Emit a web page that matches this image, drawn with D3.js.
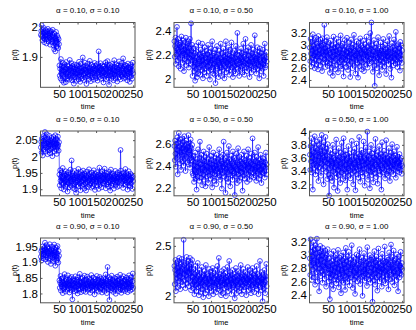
<!DOCTYPE html>
<html><head><meta charset="utf-8">
<script src="https://cdnjs.cloudflare.com/ajax/libs/d3/7.8.5/d3.min.js"></script>
<style>body{margin:0;background:#fff}svg{display:block}</style>
</head><body>
<script>
const alphas = [0.10, 0.50, 0.90];
const sigmas = [0.10, 0.50, 1.00];
const xDomain = [0, 255];
const xTicks = [50, 100, 150, 200, 250];
const yDomains = [
  [1.80, 2.013], [1.925, 2.467], [2.275, 3.38],
  [1.88, 2.078], [2.123, 2.718], [3.026, 4.01],
  [1.77, 1.978], [1.935, 2.578], [2.275, 3.26]
];
const yTicks = [
  [1.9, 2], [2, 2.2, 2.4], [2.4, 2.6, 2.8, 3, 3.2],
  [1.9, 1.95, 2, 2.05], [2.2, 2.4, 2.6], [3.2, 3.4, 3.6, 3.8, 4],
  [1.8, 1.85, 1.9, 1.95], [2, 2.5], [2.4, 2.6, 2.8, 3, 3.2]
];
const p1 = [1.972,1.985,2.004,1.968,1.955,1.990,1.978,1.962,1.995,1.948,1.981,1.969,1.957,1.988,1.975,1.944,1.966,1.983,1.959,1.992,1.970,1.951,1.977,1.986,1.963,1.940,1.979,1.958,1.984,1.967,1.949,1.973,1.989,1.956,1.937,1.965,1.925,1.976,1.946,1.918,1.961,1.982,1.953,1.934,1.970,1.947,1.964,1.929,1.958,1.942,
1.872,1.838,1.861,1.829,1.893,1.846,1.870,1.822,1.855,1.880,1.841,1.866,1.815,1.852,1.876,1.834,1.859,1.817,1.883,1.845,1.862,1.828,1.871,1.849,1.836,1.868,1.825,1.857,1.890,1.843,1.864,1.831,1.854,1.879,1.823,1.848,1.870,1.838,1.860,1.812,1.851,1.875,1.833,1.866,1.844,1.858,1.821,1.873,1.847,1.835,1.869,1.826,1.856,1.884,1.840,1.862,1.818,1.850,1.877,1.837,1.863,1.829,1.853,1.898,1.842,1.867,1.824,1.859,1.846,1.881,1.832,1.857,1.871,1.811,1.849,1.866,1.836,1.878,1.843,1.861,1.827,1.854,1.887,1.839,1.863,1.820,1.852,1.874,1.845,1.858,1.833,1.869,1.848,1.825,1.862,1.880,1.837,1.855,1.871,1.830,1.859,1.844,1.876,1.822,1.864,1.850,1.918,1.841,1.867,1.834,1.856,1.879,1.828,1.861,1.847,1.872,1.838,1.853,1.868,1.816,1.848,1.870,1.835,1.862,1.843,1.882,1.826,1.858,1.875,1.840,1.886,1.831,1.866,1.849,1.808,1.857,1.873,1.839,1.863,1.851,1.828,1.869,1.845,1.877,1.834,1.860,1.823,1.855,1.889,1.842,1.867,1.830,1.853,1.876,1.838,1.864,1.819,1.850,1.872,1.844,1.859,1.885,1.833,1.865,1.847,1.826,1.870,1.841,1.857,1.880,1.836,1.862,1.895,1.848,1.829,1.868,1.843,1.874,1.832,1.856,1.871,1.839,1.861,1.823,1.852,1.878,1.845,1.866,1.834,1.858,1.818,1.863,1.849,1.875,1.837,1.869,1.828,1.854,1.881,1.846];
const p2 = [2.31,2.18,2.27,2.34,2.12,2.25,2.20,2.43,2.29,2.15,2.24,2.33,2.10,2.22,2.28,2.17,2.30,2.08,2.26,2.35,2.19,2.23,2.13,2.32,2.21,2.27,2.06,2.24,2.16,2.30,2.20,2.34,2.11,2.26,2.18,2.29,2.14,2.22,2.31,2.09,2.25,2.17,2.33,2.20,2.12,2.46,2.23,2.15,2.28,2.02,
2.19,2.10,2.25,2.06,2.15,2.21,1.98,2.13,2.27,2.08,2.17,2.01,2.22,2.12,2.04,2.30,2.16,2.09,2.20,2.14,2.03,2.24,2.11,2.18,2.07,2.29,2.15,2.00,2.21,2.12,2.19,2.05,2.26,2.13,2.08,2.17,2.23,2.02,2.14,2.20,2.10,2.28,2.06,2.16,2.11,2.22,1.99,2.18,2.13,2.25,2.07,2.15,2.31,2.09,2.19,2.04,2.12,2.21,2.16,2.03,2.24,1.96,2.14,2.18,2.10,2.27,2.08,2.15,2.20,2.01,2.13,2.23,2.06,2.17,2.11,2.29,2.09,2.16,2.02,2.21,2.14,2.07,2.25,2.12,2.18,2.00,2.15,2.22,2.10,2.31,2.05,2.17,2.13,2.20,2.08,2.26,2.11,2.16,2.03,2.19,2.12,2.24,2.07,2.15,2.30,2.09,2.18,2.13,2.01,2.21,2.16,2.06,2.23,2.11,2.17,2.04,2.27,2.14,2.09,2.20,2.38,2.12,2.08,2.19,2.15,2.02,2.22,2.13,2.17,2.07,2.25,2.10,2.16,2.21,2.05,2.14,2.29,2.11,2.18,2.03,2.13,2.20,2.33,2.09,2.16,2.23,2.06,2.15,2.12,2.26,2.08,2.19,2.14,2.01,2.22,2.11,2.17,2.28,2.05,2.16,2.21,2.10,2.14,2.24,2.07,2.18,2.12,2.36,2.09,2.15,2.20,2.04,2.17,2.13,2.26,2.08,2.19,2.11,2.22,2.00,2.16,2.25,2.10,2.14,2.06,2.21,2.13,2.18,2.08,2.24,2.12,2.02,2.19,2.15,2.29,2.09,2.17,2.11,2.22,2.14];
const p3 = [2.95,2.72,3.10,2.85,2.63,3.05,2.90,2.78,3.18,2.69,2.98,2.82,3.08,2.60,2.93,2.76,3.12,2.87,2.67,3.02,2.80,2.96,2.58,3.15,2.84,2.73,3.04,2.91,2.65,3.09,2.79,2.99,2.86,2.55,3.11,2.89,2.70,3.00,2.83,3.34,2.75,2.94,2.62,3.06,2.88,2.71,3.13,2.81,2.97,2.64,
2.90,2.77,3.03,2.68,2.52,2.86,3.07,2.74,2.93,2.61,2.99,2.80,2.47,2.88,3.14,2.72,2.95,2.83,2.58,3.01,2.76,2.89,3.10,2.66,2.84,2.97,2.53,2.79,3.05,2.87,2.70,2.92,2.63,3.16,2.81,2.74,2.98,2.59,2.85,3.02,2.78,2.46,2.91,2.69,3.08,2.83,2.75,2.96,2.62,2.88,3.12,2.73,2.86,2.57,2.94,2.80,3.04,2.67,2.90,2.45,2.84,3.09,2.71,2.95,2.78,2.60,3.00,2.87,2.76,3.17,2.64,2.89,2.82,2.51,2.97,2.74,3.06,2.85,2.69,2.93,2.44,2.81,3.03,2.77,2.91,2.63,3.11,2.86,2.72,2.98,2.58,2.84,2.95,2.70,3.07,2.79,2.55,2.92,2.83,3.01,2.75,2.88,2.66,3.14,2.80,2.96,2.61,2.87,2.73,3.05,2.90,2.68,2.84,3.20,2.77,2.93,3.38,2.71,2.99,2.82,2.54,2.89,2.76,3.08,2.64,2.30,2.95,2.81,2.72,3.02,2.86,2.60,2.91,2.78,3.13,2.69,2.87,2.48,2.94,2.83,2.74,3.04,2.66,2.90,2.79,2.57,2.97,2.85,3.10,2.71,2.88,2.63,2.82,3.00,2.76,2.92,2.50,2.86,2.73,3.06,2.80,2.95,2.67,2.89,3.15,2.75,2.84,2.59,2.93,2.78,2.44,2.87,3.03,2.72,2.96,2.81,2.65,3.09,2.85,2.77,2.91,2.68,3.22,2.83,2.74,2.98,2.62,2.88,3.01,2.79,2.70,2.94,2.86,2.56,3.05,2.82,2.76,2.99,2.69,2.90];
const p4 = [2.028,2.045,2.012,2.055,2.036,2.003,2.048,2.062,2.021,2.040,2.058,2.075,2.033,2.015,2.050,2.026,2.068,2.041,2.007,2.053,2.030,2.046,2.019,2.063,2.037,2.010,2.049,2.024,2.057,2.034,2.043,2.001,2.052,2.027,2.060,2.038,2.016,2.047,2.031,2.065,2.022,2.054,2.039,2.008,2.050,2.029,2.061,2.035,2.018,2.044,
1.945,1.912,1.958,1.926,1.937,1.903,1.951,1.920,1.940,1.965,1.917,1.933,1.899,1.948,1.925,1.942,1.908,1.955,1.930,1.914,1.946,1.922,1.893,1.938,1.952,1.919,1.935,1.906,1.944,1.927,1.960,1.911,1.932,1.988,1.923,1.941,1.904,1.949,1.929,1.916,1.937,1.956,1.900,1.943,1.921,1.889,1.934,1.950,1.913,1.939,1.926,1.962,1.909,1.931,1.947,1.918,1.936,1.897,1.953,1.924,1.940,1.910,1.945,1.928,1.957,1.915,1.933,1.902,1.948,1.930,1.919,1.942,1.896,1.938,1.954,1.922,1.935,1.907,1.944,1.927,1.961,1.913,1.931,1.946,1.918,1.939,1.905,1.951,1.925,1.936,1.909,1.943,1.929,1.958,1.916,1.934,1.898,1.947,1.923,1.940,1.930,1.952,1.912,1.937,1.920,1.945,1.901,1.932,1.966,1.926,1.941,1.914,1.949,1.928,1.906,1.938,1.955,1.919,1.933,1.944,1.917,1.935,1.963,1.924,1.942,1.903,1.950,1.929,1.915,1.939,1.947,1.921,1.934,1.908,1.953,1.927,1.940,1.896,1.936,1.960,1.911,1.944,1.930,1.918,1.948,1.925,1.937,1.902,1.942,1.931,1.920,1.956,1.913,1.938,1.926,1.946,1.907,1.933,1.951,1.922,1.936,1.910,1.945,1.928,1.941,2.020,1.957,1.919,1.935,1.948,1.924,1.939,1.904,1.950,1.932,1.916,1.943,1.927,1.962,1.914,1.934,1.949,1.921,1.937,1.899,1.944,1.929,1.955,1.912,1.940,1.926,1.908,1.947,1.930,1.918,1.942,1.935,1.901,1.938,1.925];
const p5 = [2.58,2.45,2.63,2.51,2.39,2.60,2.55,2.47,2.66,2.32,2.54,2.61,2.70,2.49,2.57,2.42,2.64,2.52,2.36,2.59,2.50,2.65,2.44,2.56,2.62,2.40,2.53,2.67,2.46,2.58,2.35,2.55,2.63,2.48,2.60,2.43,2.57,2.52,2.68,2.41,2.54,2.61,2.38,2.50,2.64,2.47,2.56,2.45,2.59,2.33,
2.44,2.31,2.49,2.25,2.40,2.36,2.52,2.28,2.43,2.34,2.18,2.46,2.39,2.30,2.55,2.35,2.42,2.26,2.47,2.62,2.33,2.41,2.29,2.50,2.37,2.22,2.45,2.38,2.32,2.53,2.27,2.44,2.36,2.48,2.21,2.40,2.34,2.51,2.30,2.43,2.39,2.24,2.46,2.35,2.57,2.31,2.42,2.37,2.28,2.49,2.36,2.45,2.20,2.41,2.33,2.52,2.38,2.26,2.44,2.32,2.47,2.35,2.40,2.23,2.50,2.37,2.43,2.29,2.46,2.34,2.41,2.55,2.31,2.38,2.27,2.48,2.36,2.44,2.19,2.42,2.33,2.50,2.39,2.62,2.30,2.45,2.35,2.41,2.15,2.47,2.37,2.28,2.52,2.34,2.43,2.25,2.40,2.58,2.32,2.46,2.38,2.21,2.44,2.36,2.49,2.31,2.42,2.27,2.53,2.35,2.40,2.33,2.47,2.13,2.39,2.45,2.30,2.51,2.37,2.24,2.43,2.36,2.56,2.32,2.41,2.26,2.48,2.35,2.44,2.29,2.38,2.50,2.34,2.42,2.17,2.46,2.37,2.31,2.53,2.40,2.28,2.45,2.36,2.43,2.33,2.49,2.25,2.41,2.38,2.55,2.32,2.44,2.39,2.27,2.47,2.35,2.42,2.30,2.51,2.37,2.41,2.65,2.34,2.46,2.29,2.40,2.36,2.52,2.31,2.44,2.38,2.26,2.48,2.35,2.43,2.33,2.57,2.39,2.28,2.45,2.36,2.42,2.31,2.50,2.37,2.24,2.44,2.34,2.40,2.47,2.33,2.39,2.46,2.35,2.29,2.43,2.38,2.52,2.32,2.41];
const p6 = [3.65,3.42,3.78,3.55,3.90,3.38,3.70,3.60,3.12,3.82,3.50,3.68,3.45,3.93,3.58,3.35,3.75,3.63,3.48,3.85,3.40,3.72,3.56,3.25,3.80,3.62,3.46,3.88,3.53,3.70,3.33,3.66,3.95,3.51,3.77,3.43,3.61,3.20,3.84,3.57,3.69,3.47,3.92,3.54,3.39,3.74,3.64,3.28,3.81,3.52,
3.58,3.35,3.03,3.62,3.44,3.72,3.30,3.55,3.48,3.66,3.25,3.52,3.80,3.40,3.60,3.15,3.57,3.46,3.70,3.37,3.53,3.88,3.31,3.49,3.64,3.10,3.56,3.42,3.75,3.34,3.61,3.47,3.22,3.68,3.51,3.38,3.83,3.45,3.59,3.28,3.54,3.90,3.36,3.63,3.43,3.71,3.26,3.50,3.65,3.39,3.57,3.12,3.60,3.44,3.78,3.33,3.52,3.67,3.41,3.55,3.29,3.62,3.48,3.86,3.37,3.58,3.45,3.20,3.69,3.50,3.40,3.74,3.53,3.11,3.61,3.46,3.82,3.35,3.56,3.43,3.66,3.30,3.54,3.92,3.47,3.63,3.24,3.59,3.42,3.72,3.38,3.55,3.68,3.32,3.49,3.85,3.44,3.60,3.18,3.57,3.51,3.76,3.36,3.64,3.45,4.00,3.53,3.27,3.62,3.41,3.70,3.48,3.14,3.58,3.39,3.80,3.52,3.34,3.67,3.46,3.55,3.23,3.61,3.43,3.73,3.37,3.59,3.89,3.50,3.31,3.64,3.47,3.56,3.21,3.69,3.44,3.54,3.78,3.40,3.60,3.35,3.66,3.49,3.12,3.57,3.84,3.45,3.62,3.38,3.53,3.71,3.42,3.58,3.29,3.65,3.50,3.87,3.36,3.55,3.46,3.60,3.33,3.52,3.75,3.41,3.63,3.25,3.57,3.48,3.68,3.39,3.54,3.81,3.44,3.61,3.35,3.50,3.70,3.43,3.56,3.47,3.64,3.30,3.58,3.52,3.77,3.40,3.55,3.62,3.45,3.53,3.38,3.66,3.49,3.57,3.42,3.60,3.51,3.36,3.48];
const p7 = [1.918,1.935,1.906,1.942,1.927,1.951,1.913,1.938,1.924,1.946,1.931,1.963,1.909,1.940,1.922,1.955,1.916,1.934,1.948,1.901,1.929,1.944,1.912,1.937,1.958,1.920,1.933,1.895,1.941,1.926,1.950,1.915,1.936,1.904,1.945,1.923,1.957,1.910,1.932,1.889,1.939,1.919,1.947,1.907,1.928,1.952,1.914,1.899,1.936,1.921,
1.842,1.818,1.835,1.856,1.809,1.829,1.848,1.822,1.838,1.801,1.833,1.851,1.815,1.827,1.862,1.820,1.840,1.806,1.831,1.845,1.812,1.836,1.824,1.858,1.817,1.830,1.843,1.803,1.826,1.849,1.819,1.839,1.811,1.853,1.828,1.781,1.834,1.846,1.814,1.825,1.841,1.807,1.832,1.855,1.821,1.837,1.810,1.844,1.823,1.800,1.830,1.852,1.816,1.839,1.826,1.863,1.813,1.834,1.804,1.847,1.822,1.836,1.818,1.850,1.829,1.808,1.841,1.824,1.857,1.815,1.833,1.805,1.845,1.827,1.819,1.854,1.831,1.812,1.838,1.823,1.848,1.816,1.832,1.802,1.843,1.826,1.859,1.820,1.835,1.809,1.840,1.824,1.851,1.814,1.830,1.797,1.846,1.821,1.837,1.817,1.828,1.856,1.811,1.834,1.822,1.844,1.806,1.839,1.825,1.853,1.815,1.831,1.848,1.819,1.836,1.803,1.842,1.827,1.812,1.849,1.823,1.838,1.808,1.845,1.829,1.861,1.818,1.833,1.801,1.840,1.885,1.826,1.814,1.852,1.832,1.779,1.837,1.820,1.846,1.810,1.834,1.857,1.816,1.828,1.843,1.805,1.839,1.824,1.812,1.850,1.821,1.836,1.799,1.847,1.830,1.815,1.854,1.825,1.841,1.807,1.832,1.818,1.845,1.827,1.860,1.813,1.838,1.802,1.835,1.822,1.848,1.811,1.833,1.855,1.819,1.840,1.826,1.808,1.844,1.829,1.814,1.851,1.823,1.837,1.804,1.846,1.831,1.817,1.858,1.828,1.835,1.809,1.842,1.820,1.852,1.826,1.813,1.839,1.864,1.818];
const p8 = [2.30,2.12,2.26,2.36,2.05,2.22,2.33,2.18,2.28,2.09,2.35,2.24,2.15,2.38,2.20,2.29,2.07,2.32,2.25,2.14,2.37,2.19,2.27,2.11,2.34,2.56,2.22,2.31,2.16,2.26,2.08,2.33,2.21,2.39,2.13,2.28,2.24,2.17,2.35,2.10,2.30,2.23,2.38,2.15,2.27,2.06,2.32,2.20,2.36,2.12,
2.19,2.08,2.27,2.14,2.02,2.22,2.11,2.30,2.16,2.05,2.24,2.12,2.18,2.33,2.09,2.20,2.01,2.15,2.26,2.10,2.17,2.04,2.23,2.13,2.29,2.07,2.19,2.14,1.99,2.21,2.11,2.25,2.16,2.03,2.18,2.31,2.09,2.14,2.22,2.06,2.20,2.12,2.17,2.00,2.27,2.13,2.08,2.24,2.15,2.19,2.05,2.21,2.10,2.28,2.14,2.02,2.18,2.23,2.11,2.16,2.09,2.26,2.13,2.04,2.20,2.15,2.30,2.07,2.17,2.12,2.38,2.10,2.19,2.06,2.22,2.14,2.01,2.18,2.25,2.11,2.16,2.03,2.21,2.13,2.27,2.08,2.17,2.12,2.23,2.00,2.19,2.14,2.09,2.29,2.15,2.05,2.20,2.12,2.35,2.10,2.18,2.24,2.07,2.16,2.02,2.21,2.13,2.26,2.09,2.17,2.11,2.22,2.15,1.98,2.19,2.08,2.28,2.14,2.03,2.20,2.16,2.10,2.25,2.12,2.18,2.05,2.23,2.13,2.08,2.31,2.14,2.19,2.02,2.21,2.11,2.17,2.27,2.06,2.15,2.20,2.09,2.24,2.13,2.18,2.01,2.16,2.22,2.10,2.29,2.12,2.17,2.06,2.20,2.14,2.26,2.08,2.19,2.03,2.15,2.23,2.11,2.28,2.16,2.09,2.21,2.13,2.04,2.18,2.25,2.10,2.19,2.12,2.30,2.07,2.16,2.22,2.14,2.02,2.20,2.11,2.15,2.35,2.09,2.18,2.13,2.24,2.06,2.17,1.95,2.21,2.12,2.19,2.08,2.26,2.14,2.03,2.20,2.16,2.32,2.10];
const p9 = [2.95,2.70,3.24,2.85,3.05,2.62,2.98,3.12,2.78,3.20,2.88,2.66,3.08,2.92,2.55,3.15,2.82,3.02,2.74,3.25,2.90,2.60,3.10,2.86,2.97,2.45,3.04,2.80,3.14,2.68,2.93,3.06,2.76,2.99,2.58,3.11,2.84,2.71,3.03,2.89,2.64,3.07,2.81,2.96,2.52,3.00,2.87,2.73,3.09,2.79,
2.83,2.60,2.95,2.72,2.33,2.88,2.66,3.02,2.78,2.55,2.91,2.70,2.85,2.48,3.06,2.76,2.63,2.97,2.81,2.68,3.00,2.57,2.87,2.74,2.93,2.62,3.08,2.79,2.51,2.89,2.71,2.96,2.65,2.84,2.42,2.99,2.77,2.61,2.92,2.73,3.04,2.58,2.86,2.69,2.95,2.47,2.80,3.11,2.67,2.90,2.75,2.59,2.98,2.82,2.64,3.05,2.72,2.54,2.88,2.78,2.93,2.66,2.81,3.15,2.70,2.86,2.50,2.97,2.76,2.63,2.89,2.73,2.41,2.94,2.80,2.68,3.01,2.77,2.60,2.85,2.71,2.99,2.64,2.87,3.09,2.74,2.56,2.90,2.79,2.67,2.96,2.82,2.38,2.75,2.92,2.69,3.03,2.78,2.61,2.84,2.72,2.95,2.65,2.88,2.53,3.12,2.80,2.70,2.91,2.76,2.63,2.86,3.00,2.74,2.58,2.93,2.81,2.67,2.97,2.29,2.85,2.71,2.94,2.62,3.06,2.78,2.55,2.89,2.73,2.98,2.66,2.83,2.46,2.92,2.77,3.10,2.69,2.87,2.60,2.80,2.75,2.95,2.64,2.84,2.52,3.02,2.79,2.68,2.91,2.73,2.88,2.61,3.13,2.76,2.57,2.90,2.82,2.70,2.96,2.65,2.79,2.93,2.48,2.86,3.04,2.74,2.63,2.89,2.77,3.16,2.71,2.85,2.59,2.97,2.80,2.67,3.07,2.75,2.54,2.92,2.83,2.69,2.94,2.78,2.62,3.01,2.87,2.73,2.45,2.90,2.76,2.98,2.66,2.84,2.72,3.05,2.81,2.70,2.88,2.79];
const series = [p1, p2, p3, p4, p5, p6, p7, p8, p9];

const W = 416, H = 330;
const colLeft = [40.5, 174, 309.5];
const rowTop = [22.5, 131, 238];
const boxW = 94.5, boxH = 64.8;
const font = "'Liberation Sans', Arial, Helvetica, sans-serif";
const svg = d3.select("body").append("svg").attr("width", W).attr("height", H);
svg.append("rect").attr("width", W).attr("height", H).attr("fill", "#fff");

series.forEach((vals, i) => {
  const r = Math.floor(i / 3), c = i % 3;
  const x0 = colLeft[c], y0 = rowTop[r];
  const x = d3.scaleLinear().domain(xDomain).range([x0, x0 + boxW]);
  const y = d3.scaleLinear().domain(yDomains[i]).range([y0 + boxH, y0]);
  const g = svg.append("g");
  const pts = vals.map((v, k) => [k + 1, v]);
  g.append("path").datum(pts)
    .attr("d", d3.line().x(d => x(d[0])).y(d => y(d[1])))
    .attr("fill", "none").attr("stroke", "#0000ff").attr("stroke-width", 0.6);
  g.selectAll("circle").data(pts).join("circle")
    .attr("cx", d => x(d[0])).attr("cy", d => y(d[1])).attr("r", 2.4)
    .attr("fill", "none").attr("stroke", "#0000ff").attr("stroke-width", 0.7);

  g.append("rect").attr("x", x0).attr("y", y0).attr("width", boxW).attr("height", boxH)
    .attr("fill", "none").attr("stroke", "#555").attr("stroke-width", 1);
  const ax = d3.axisBottom(x).tickValues(xTicks).tickSizeInner(-2).tickSizeOuter(0).tickPadding(4).tickFormat(d3.format("d"));
  const axG = g.append("g").attr("transform", `translate(0,${y0 + boxH})`).call(ax);
  const ayTicks = yTicks[i];
  const ay = d3.axisLeft(y).tickValues(ayTicks).tickSizeInner(-2).tickSizeOuter(0).tickPadding(4).tickFormat(d => String(d));
  const ayG = g.append("g").attr("transform", `translate(${x0},0)`).call(ay);
  const axTop = d3.axisTop(x).tickValues(xTicks).tickSizeInner(-2).tickSizeOuter(0).tickFormat("");
  const axTopG = g.append("g").attr("transform", `translate(0,${y0})`).call(axTop);
  const ayR = d3.axisRight(y).tickValues(ayTicks).tickSizeInner(-2).tickSizeOuter(0).tickFormat("");
  const ayRG = g.append("g").attr("transform", `translate(${x0 + boxW},0)`).call(ayR);
  [axG, ayG, axTopG, ayRG].forEach(a => {
    a.select(".domain").remove();
    a.selectAll("line").attr("stroke", "#555");
    a.selectAll("text").attr("fill", "#000").style("font-family", font).style("font-size", "11.5px");
  });
  axG.selectAll("text").attr("dy", "0.71em").attr("y", 2.5);
  ayG.selectAll("text").attr("x", -2.5);

  g.append("text").attr("x", x0 + boxW / 2).attr("y", y0 - 9.5)
    .attr("text-anchor", "middle").style("font-family", font).style("font-size", "8px")
    .text(`α = ${alphas[r].toFixed(2)}, σ = ${sigmas[c].toFixed(2)}`);
  g.append("text").attr("x", x0 + boxW / 2).attr("y", y0 + boxH + 22)
    .attr("text-anchor", "middle").style("font-family", font).style("font-size", "7.5px")
    .text("time");
  g.append("text").attr("transform", `translate(${x0 - 23.5},${y0 + boxH / 2}) rotate(-90)`)
    .attr("text-anchor", "middle").style("font-family", font).style("font-size", "7.5px")
    .text("p(t)");
});
</script>
</body></html>
